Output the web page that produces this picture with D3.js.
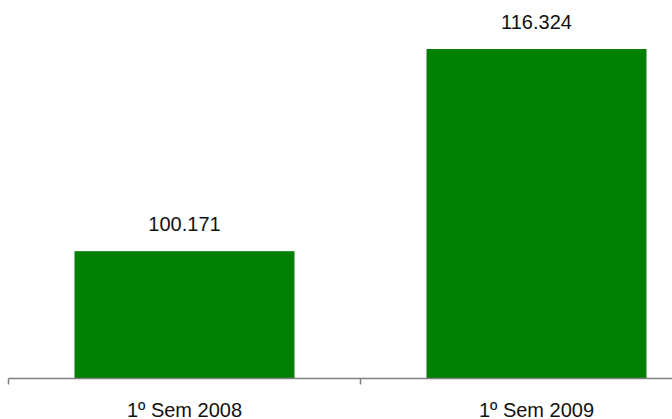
<!DOCTYPE html>
<html>
<head>
<meta charset="utf-8">
<script src="https://cdn.jsdelivr.net/npm/d3@7"></script>
<style>
  html, body { margin: 0; padding: 0; background: #fff; }
  svg { display: block; font-family: "Liberation Sans", Arial, Helvetica, sans-serif; }
</style>
</head>
<body>
<svg id="chart" width="672" height="419"></svg>
<script>
// Periods and amounts shown on the chart
const categories = ["1º Sem 2008", "1º Sem 2009"];
const values = [100.171, 116.324];
const valueLabels = ["100.171", "116.324"];
const yDomain = [90, 120];

const width = 672, height = 419;
const svg = d3.select("#chart");

const baseY = 378.5;
const x = d3.scaleBand()
  .domain(categories)
  .range([8.5, 712.5])
  .paddingInner(0)
  .paddingOuter(0);

const y = d3.scaleLinear()
  .domain(yDomain)
  .range([baseY, 3]);

const barFrac = 0.625;
const barW = x.bandwidth() * barFrac;

// Bars
svg.append("g")
  .selectAll("rect")
  .data(values)
  .join("rect")
  .attr("x", (d, i) => x(categories[i]) + (x.bandwidth() - barW) / 2)
  .attr("y", d => y(d))
  .attr("width", barW)
  .attr("height", d => baseY - y(d))
  .attr("fill", "#008000");

// Value labels above bars
svg.append("g")
  .selectAll("text")
  .data(values)
  .join("text")
  .attr("x", (d, i) => x(categories[i]) + x.bandwidth() / 2)
  .attr("y", d => y(d) - 20)
  .attr("text-anchor", "middle")
  .attr("font-size", 20)
  .attr("fill", "#111")
  .text((d, i) => valueLabels[i]);

// Category axis with ticks at band boundaries
const axisG = svg.append("g");
axisG.append("line")
  .attr("x1", x.range()[0]).attr("x2", width)
  .attr("y1", baseY).attr("y2", baseY)
  .attr("stroke", "#7f7f7f").attr("stroke-width", 1.5);

const boundaries = categories.map(c => x(c));
axisG.selectAll("line.tick")
  .data(boundaries)
  .join("line")
  .attr("class", "tick")
  .attr("x1", d => d).attr("x2", d => d)
  .attr("y1", baseY).attr("y2", baseY + 6)
  .attr("stroke", "#7f7f7f").attr("stroke-width", 1.5);

axisG.selectAll("text")
  .data(categories)
  .join("text")
  .attr("x", d => x(d) + x.bandwidth() / 2)
  .attr("y", 416.5)
  .attr("text-anchor", "middle")
  .attr("font-size", 20)
  .attr("fill", "#111")
  .text(d => d);
</script>
</body>
</html>
